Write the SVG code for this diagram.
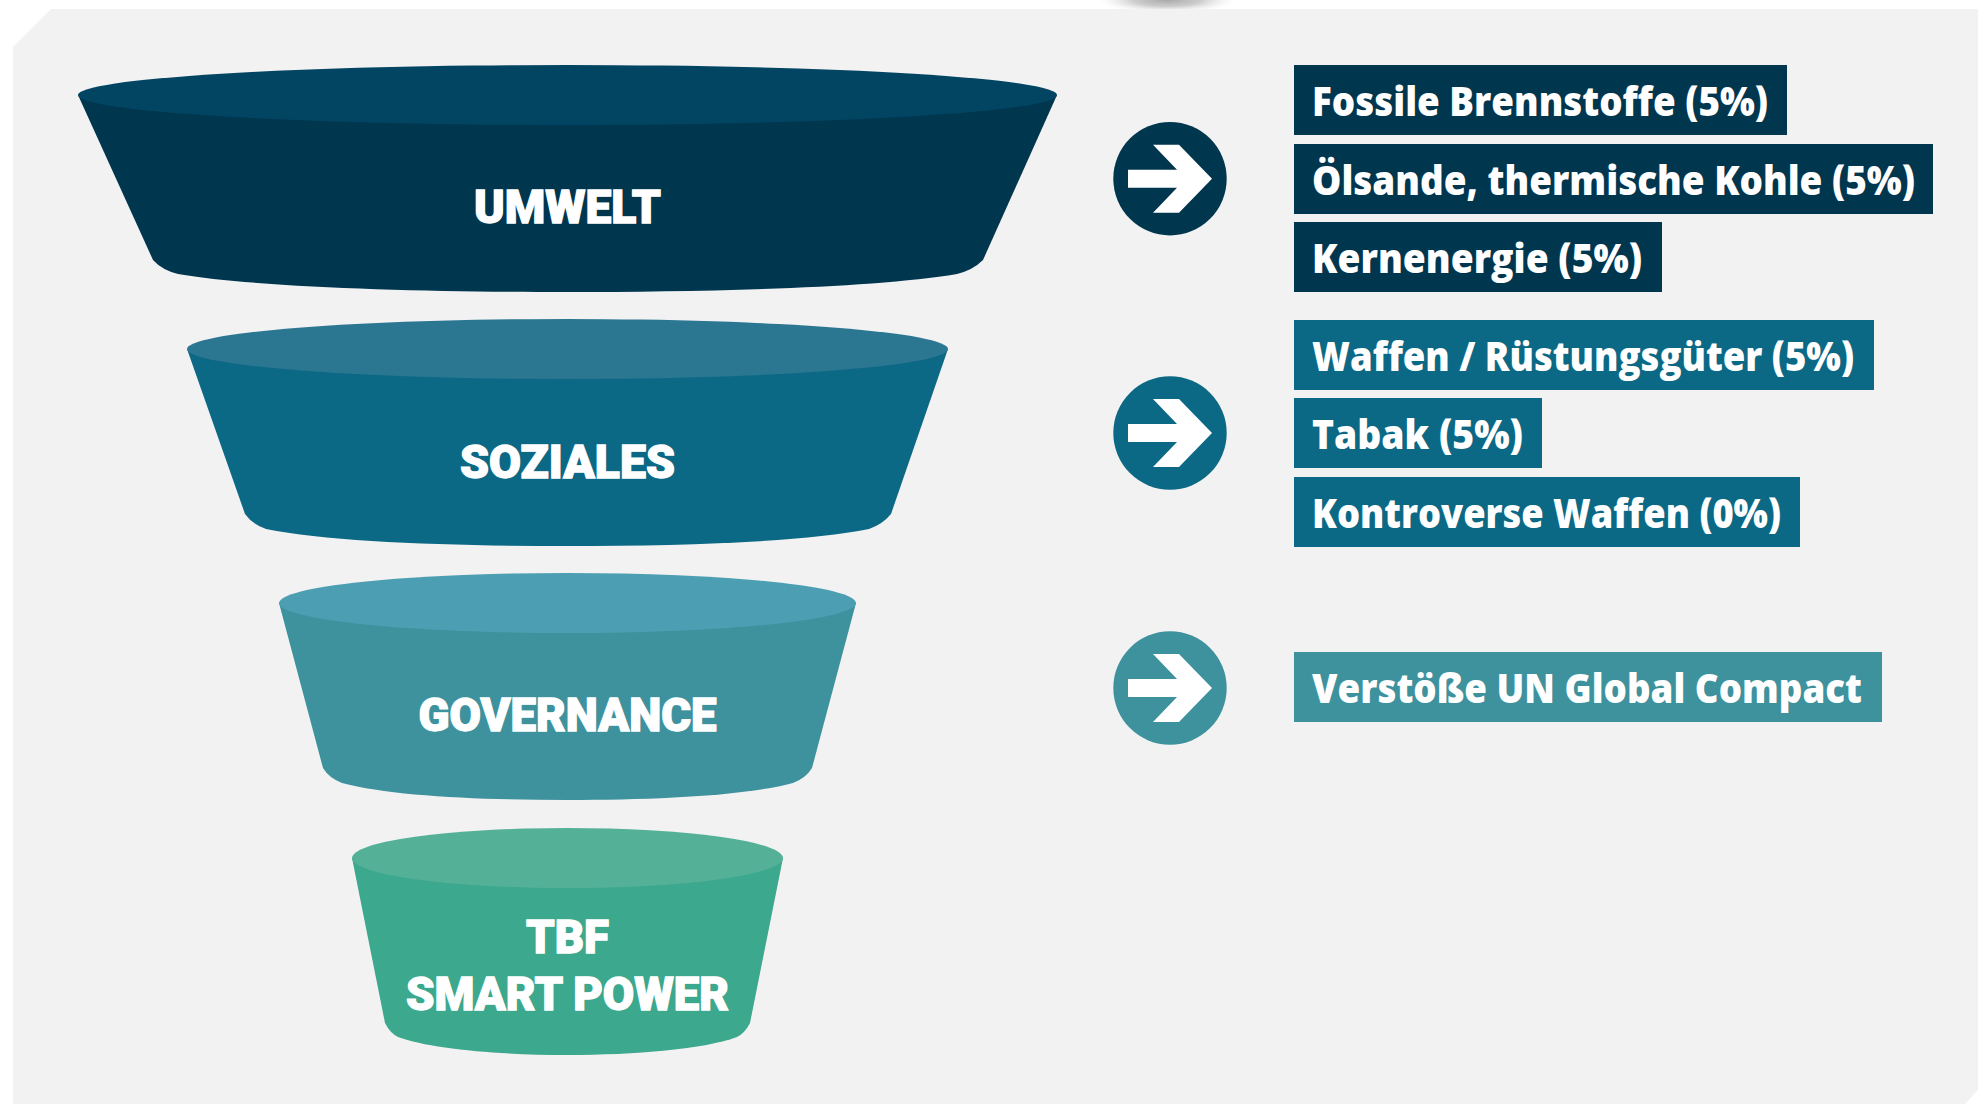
<svg xmlns="http://www.w3.org/2000/svg" width="1978" height="1104" viewBox="0 0 1978 1104">
<defs>
<radialGradient id="sh"><stop offset="0" stop-color="#a8a8a8"/><stop offset="0.5" stop-color="#c4c4c4" stop-opacity="0.85"/><stop offset="1" stop-color="#e8e8e8" stop-opacity="0"/></radialGradient>
<g id="arrow"><path d="M-42 -9H7L-17 -34H9L42 0L9 34H-17L7 9H-42Z" fill="#fff"/></g>
</defs>
<style>
.fl{font-family:"Roboto","Liberation Sans",sans-serif;font-weight:900;font-size:46px;fill:#fff;stroke:#fff;stroke-width:1.3px;text-anchor:middle}
.lb{font-family:"Open Sans","Liberation Sans",sans-serif;font-weight:800;font-size:40px;fill:#fff}
</style>
<rect width="1978" height="1104" fill="#fff"/>
<ellipse cx="1167" cy="0" rx="68" ry="13" fill="url(#sh)"/>
<path d="M51 9H1978V1090L1965 1104H13V47Z" fill="#f2f2f2"/>
<g id="connectors">
<g id="arrow-1"><circle cx="1170" cy="178.7" r="56.7" fill="#01364f"/><use href="#arrow" x="1170" y="178.7"/></g>
<g id="arrow-2"><circle cx="1170" cy="433" r="56.7" fill="#0c6985"/><use href="#arrow" x="1170" y="433"/></g>
<g id="arrow-3"><circle cx="1170" cy="688" r="56.7" fill="#3d929d"/><use href="#arrow" x="1170" y="688"/></g>
</g>
<g id="funnel-umwelt">
<path d="M78 95L153 260Q162 270 178 274C260 288 430 292 567 292C705 292 875 288 957 274Q973 270 983 260L1057 95Z" fill="#01364f"/>
<ellipse cx="567.5" cy="95" rx="489.5" ry="30" fill="#024563"/>
<text class="fl" x="567.5" y="223.4" textLength="187" lengthAdjust="spacingAndGlyphs">UMWELT</text>
</g>
<g id="funnel-soziales">
<path d="M187 349L245 514Q252 524 266 529C330 542 450 546 567 546C685 546 805 542 869 529Q883 524 891 514L948 349Z" fill="#0c6985"/>
<ellipse cx="567.5" cy="349" rx="380.5" ry="30" fill="#2b7792"/>
<text class="fl" x="567.5" y="478" textLength="215" lengthAdjust="spacingAndGlyphs">SOZIALES</text>
</g>
<g id="funnel-governance">
<path d="M279 603L323 768Q329 778 342 783C390 796 480 800 567 800C655 800 745 796 793 783Q806 778 812 768L856 603Z" fill="#3d929d"/>
<ellipse cx="567.5" cy="603" rx="288.5" ry="30" fill="#4c9fb2"/>
<text class="fl" x="567.5" y="731.4" textLength="298" lengthAdjust="spacingAndGlyphs">GOVERNANCE</text>
</g>
<g id="funnel-tbf">
<path d="M352 858L385 1023Q390 1033 398 1037C430 1049 500 1055 567 1055C635 1055 705 1049 737 1037Q745 1033 750 1023L783 858Z" fill="#3ca88d"/>
<ellipse cx="567.5" cy="858" rx="215.5" ry="30" fill="#54b197"/>
<text class="fl" x="567.5" y="953.4" textLength="83" lengthAdjust="spacingAndGlyphs">TBF</text>
<text class="fl" x="567.5" y="1010.4" textLength="323" lengthAdjust="spacingAndGlyphs">SMART POWER</text>
</g>
<g id="label-1"><rect x="1294" y="65" width="493" height="70" fill="#01364f"/><text class="lb" x="1312" y="116" textLength="456" lengthAdjust="spacingAndGlyphs">Fossile Brennstoffe (5%)</text></g>
<g id="label-2"><rect x="1294" y="144" width="639" height="70" fill="#01364f"/><text class="lb" x="1312" y="195" textLength="603" lengthAdjust="spacingAndGlyphs">Ölsande, thermische Kohle (5%)</text></g>
<g id="label-3"><rect x="1294" y="222" width="368" height="70" fill="#01364f"/><text class="lb" x="1312" y="273" textLength="330" lengthAdjust="spacingAndGlyphs">Kernenergie (5%)</text></g>
<g id="label-4"><rect x="1294" y="320" width="580" height="70" fill="#0c6985"/><text class="lb" x="1312" y="371" textLength="542" lengthAdjust="spacingAndGlyphs">Waffen / Rüstungsgüter (5%)</text></g>
<g id="label-5"><rect x="1294" y="398" width="248" height="70" fill="#0c6985"/><text class="lb" x="1312" y="449" textLength="211" lengthAdjust="spacingAndGlyphs">Tabak (5%)</text></g>
<g id="label-6"><rect x="1294" y="477" width="506" height="70" fill="#0c6985"/><text class="lb" x="1312" y="528" textLength="469" lengthAdjust="spacingAndGlyphs">Kontroverse Waffen (0%)</text></g>
<g id="label-7"><rect x="1294" y="652" width="588" height="70" fill="#3d929d"/><text class="lb" x="1312" y="703" textLength="550" lengthAdjust="spacingAndGlyphs">Verstöße UN Global Compact</text></g>
</svg>
